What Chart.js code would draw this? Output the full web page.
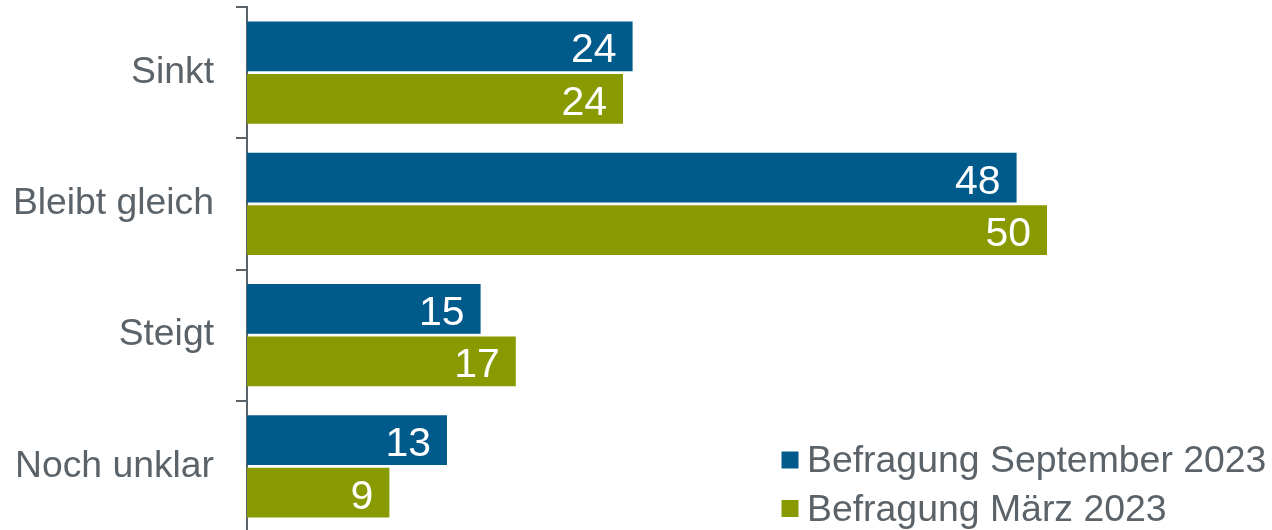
<!DOCTYPE html>
<html>
<head>
<meta charset="utf-8">
<script src="https://cdn.jsdelivr.net/npm/chart.js@4/dist/chart.umd.min.js"></script>
<style>
html, body { margin:0; padding:0; background:#fff; overflow:hidden; }
#wrap { position:relative; width:1272px; height:540px; }
</style>
</head>
<body>
<div id="wrap"><canvas id="c"></canvas></div>
<script>
const categories = ['Sinkt', 'Bleibt gleich', 'Steigt', 'Noch unklar'];
const seriesNames = ['Befragung September 2023', 'Befragung März 2023'];
const valuesSep = [24.1, 48.1, 14.6, 12.5];
const valuesMar = [23.5, 50.0, 16.8, 8.9];
const colorSep = '#005B8C';
const colorMar = '#889A00';
const textGray = '#5B636A';
const FONT = '"Liberation Sans", Arial, sans-serif';

const valueLabels = {
  id: 'valueLabels',
  afterDatasetsDraw(chart) {
    const ctx = chart.ctx;
    ctx.save();
    ctx.fillStyle = '#ffffff';
    ctx.font = '41px ' + FONT;
    ctx.textAlign = 'right';
    ctx.textBaseline = 'alphabetic';
    chart.data.datasets.forEach((ds, i) => {
      chart.getDatasetMeta(i).data.forEach((bar, j) => {
        ctx.fillText(String(Math.round(ds.data[j])), bar.x - 16, bar.y + 16);
      });
    });
    ctx.restore();
  }
};

const customLegend = {
  id: 'customLegend',
  afterDraw(chart) {
    const ctx = chart.ctx;
    ctx.save();
    ctx.font = '37.4px ' + FONT;
    ctx.textBaseline = 'alphabetic';
    ctx.textAlign = 'left';
    chart.data.datasets.forEach((ds, i) => {
      const base = 472 + i * 48.5;
      ctx.fillStyle = ds.backgroundColor;
      ctx.fillRect(781.5, base - 20.5, 17, 17);
      ctx.fillStyle = textGray;
      ctx.fillText(ds.label, 807, base);
    });
    ctx.restore();
  }
};

new Chart(document.getElementById('c'), {
  type: 'bar',
  data: {
    labels: categories,
    datasets: [
      { label: seriesNames[0], data: valuesSep, backgroundColor: colorSep },
      { label: seriesNames[1], data: valuesMar, backgroundColor: colorMar }
    ]
  },
  options: {
    indexAxis: 'y',
    responsive: true,
    maintainAspectRatio: false,
    animation: false,
    datasets: { bar: { categoryPercentage: 0.8, barPercentage: 0.95 } },
    layout: { padding: { top: 7, bottom: 8, left: 0, right: 65 } },
    plugins: { legend: { display: false }, tooltip: { enabled: false } },
    scales: {
      x: { display: false, min: 0, max: 60 },
      y: {
        afterFit(scale) { scale.width = 247; scale.paddingTop = 0; scale.paddingBottom = 0; },
        grid: { drawOnChartArea: false, tickLength: 11, color: textGray, lineWidth: 2, offset: true },
        border: { color: textGray, width: 2 },
        ticks: { color: textGray, font: { family: FONT, size: 37.3 }, padding: 22 }
      }
    }
  },
  plugins: [valueLabels, customLegend]
});
</script>
</body>
</html>
